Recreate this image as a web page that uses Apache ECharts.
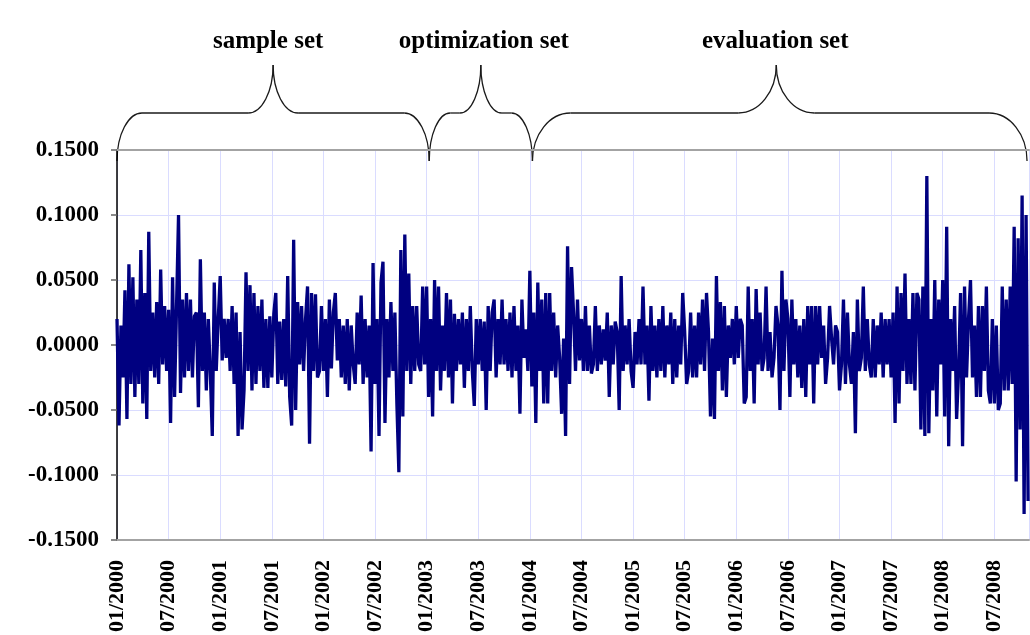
<!DOCTYPE html>
<html>
<head>
<meta charset="utf-8">
<title>Daily returns 2000–2008</title>
<script src="https://cdn.jsdelivr.net/npm/echarts@6.0.0/dist/echarts.min.js"></script>
<style>
  html, body { margin: 0; padding: 0; background: #ffffff; }
  #chart { width: 1030px; height: 635px; }
</style>
</head>
<body>
<div id="chart"></div>
<script>
// Return series, one value per step of 1/52 year starting at January 2000
const startYear = 2000;
const stepsPerYear = 52;
const returns = [
  0.020,-0.062,0.015,-0.025,0.042,-0.057,0.062,-0.030,0.052,-0.040,
  0.035,-0.030,0.073,-0.045,0.040,-0.057,0.087,-0.020,0.025,-0.025,
  0.033,-0.030,0.058,-0.015,0.030,-0.020,0.027,-0.060,0.052,-0.040,
  0.030,0.100,-0.037,0.035,-0.025,0.040,-0.020,0.035,-0.025,0.022,
  0.025,-0.048,0.066,-0.020,0.025,-0.035,0.020,-0.020,-0.070,0.048,
  -0.020,0.020,0.053,-0.012,0.020,-0.010,0.020,-0.020,0.030,-0.030,
  0.025,-0.070,0.010,-0.065,-0.035,0.056,-0.020,0.046,-0.035,0.040,
  -0.030,0.030,-0.020,0.035,-0.033,0.020,-0.033,0.022,-0.025,0.024,
  0.040,-0.030,0.018,-0.027,0.020,-0.032,0.053,-0.040,-0.062,0.081,
  -0.050,0.033,-0.015,0.030,-0.020,0.020,0.045,-0.076,0.040,-0.020,
  0.039,-0.025,-0.020,0.030,-0.020,0.020,-0.040,0.035,-0.018,0.025,
  0.040,-0.012,0.020,-0.025,0.015,-0.030,0.020,-0.035,0.015,-0.015,
  -0.030,0.025,-0.015,0.038,-0.030,0.020,-0.025,0.015,-0.082,0.063,
  -0.030,0.020,-0.070,0.048,0.064,-0.060,0.020,-0.025,0.033,-0.020,
  0.025,-0.045,-0.098,0.073,-0.055,0.085,-0.020,0.055,-0.030,0.030,
  -0.020,0.030,-0.015,-0.020,0.045,-0.015,0.045,-0.040,0.020,-0.055,
  0.050,-0.020,0.045,-0.035,0.015,-0.020,0.040,-0.025,0.035,-0.045,
  0.024,-0.020,0.020,-0.015,0.025,-0.033,0.020,-0.020,0.030,-0.020,
  -0.047,0.020,-0.015,0.020,-0.020,0.018,-0.050,0.030,-0.020,0.025,
  0.035,-0.025,0.020,-0.015,0.035,-0.015,0.020,-0.020,0.025,-0.025,
  0.030,-0.020,0.015,-0.053,0.035,-0.010,0.012,-0.020,0.057,-0.032,
  0.025,-0.060,0.048,-0.020,0.035,-0.045,0.040,-0.045,0.040,-0.020,
  0.025,-0.025,0.015,-0.010,-0.053,0.005,-0.070,0.076,-0.030,0.060,
  0.025,-0.020,0.035,-0.012,0.020,-0.020,0.030,-0.020,0.015,-0.022,
  -0.015,0.030,-0.020,0.015,-0.015,0.012,-0.012,0.025,-0.040,0.015,
  -0.015,0.018,0.010,-0.050,0.053,-0.020,0.015,-0.015,0.020,-0.020,
  -0.033,0.010,-0.015,0.020,-0.015,0.045,-0.015,0.015,-0.043,0.030,
  -0.020,0.015,-0.025,0.020,-0.020,0.030,-0.025,0.015,-0.015,0.025,
  -0.030,0.020,-0.025,0.015,-0.015,0.040,0.010,-0.030,-0.020,0.025,
  -0.025,0.015,-0.025,0.025,-0.015,0.035,-0.020,0.040,0.010,-0.055,
  0.005,-0.057,0.053,-0.020,0.033,-0.035,0.030,-0.040,0.015,-0.010,
  0.020,-0.015,0.030,-0.010,0.020,0.015,-0.045,-0.040,0.045,-0.020,
  0.020,-0.045,0.043,-0.015,0.025,-0.020,-0.010,0.045,-0.020,0.010,
  -0.025,-0.010,0.030,0.015,-0.050,0.057,-0.020,0.035,0.020,-0.040,
  0.035,-0.015,0.020,-0.025,0.015,-0.033,0.020,-0.040,0.030,-0.015,
  0.030,-0.045,0.030,-0.015,0.030,-0.010,0.015,-0.030,-0.010,0.030,
  0.005,-0.015,0.015,0.010,-0.035,-0.015,0.035,-0.030,0.025,-0.015,
  -0.030,0.010,-0.068,0.035,-0.020,-0.010,0.045,-0.020,0.020,-0.015,
  -0.025,0.020,-0.025,0.015,-0.015,0.025,-0.025,0.020,-0.015,0.020,
  -0.025,0.025,-0.060,0.045,-0.045,0.040,-0.020,0.055,-0.030,0.020,
  -0.030,0.040,-0.035,0.040,0.035,-0.065,0.045,-0.070,0.130,-0.068,
  0.020,-0.035,0.050,-0.055,0.035,-0.015,0.050,-0.055,0.091,-0.078,
  0.020,-0.020,0.030,-0.057,-0.020,0.040,-0.078,0.045,-0.025,0.020,
  0.050,-0.025,0.015,-0.040,0.030,-0.040,0.030,-0.020,0.045,-0.035,
  -0.045,0.020,-0.045,0.015,-0.050,-0.045,0.045,-0.035,0.035,-0.035,
  0.045,-0.030,0.091,-0.105,0.082,-0.065,0.115,-0.130,0.100,-0.120
];

// Data sets marked with braces above the plot (boundaries in fractional years)
const setNames = ['sample set', 'optimization set', 'evaluation set'];
const setBounds = [2000.0, 2003.025, 2004.025, 2008.817];

// Axis settings
const xMin = 2000, xMax = 2008.836, xStep = 0.5;
const yMin = -0.15, yMax = 0.15, yStep = 0.05;

const FONT = '"Liberation Serif", "Times New Roman", serif';
const GRID_COLOR = '#dadcff';

const seriesData = returns.map((v, i) => [startYear + i / stepsPerYear, v]);

const chart = echarts.init(document.getElementById('chart'), null, { renderer: 'canvas' });

function dateLabel(v) {
  const year = Math.floor(v + 1e-6);
  const half = Math.round((v - year) * 2);
  return (half === 0 ? '01/' : '07/') + year;
}

chart.setOption({
  animation: false,
  backgroundColor: '#ffffff',
  grid: { left: 117, right: 1, top: 150, bottom: 94, containLabel: false },
  xAxis: [{
    type: 'value',
    min: xMin, max: xMax, interval: xStep,
    axisLine: { show: true, onZero: false, lineStyle: { color: '#a3a3a3', width: 2 } },
    axisTick: { show: false },
    axisLabel: {
      rotate: 90, margin: 20, color: '#000', fontFamily: FONT, fontWeight: 'bold', fontSize: 22,
      showMaxLabel: false, formatter: dateLabel
    },
    splitLine: { show: true, lineStyle: { color: GRID_COLOR, width: 1 } }
  }, {
    type: 'value', position: 'top',
    min: xMin, max: xMax, interval: xStep,
    axisLine: { show: true, onZero: false, lineStyle: { color: '#a3a3a3', width: 2 } },
    axisTick: { show: false }, axisLabel: { show: false }, splitLine: { show: false }
  }],
  yAxis: {
    type: 'value',
    min: yMin, max: yMax, interval: yStep,
    axisLine: { show: true, onZero: false, lineStyle: { color: '#000', width: 1.5 } },
    axisTick: { show: true, length: 6, lineStyle: { color: '#666', width: 1.5 } },
    axisLabel: {
      margin: 18, color: '#000', fontFamily: FONT, fontWeight: 'bold', fontSize: 23,
      formatter: v => v.toFixed(4)
    },
    splitLine: { show: true, lineStyle: { color: GRID_COLOR, width: 1 } }
  },
  series: [{
    type: 'line',
    data: seriesData,
    showSymbol: false,
    symbol: 'none',
    lineStyle: { color: '#000080', width: 3.3, join: 'bevel' },
    clip: true
  }]
});

// Curly braces over each data set, with their titles
const braceCorner = [25, 21, 38];      // corner curve width, px
const bracePeakPos = [0.5, 0.5, 0.493]; // position of the brace point along its span
const labelShift = [-5, 3, -1];        // horizontal nudge of each title, px
const braceTipY = 161, braceBarY = 113, bracePeakY = 65, labelY = 42;
const K = 0.5523;
const braceStyle = { stroke: '#1a1a1a', lineWidth: 1.3, fill: 'none' };

function bez(x1, y1, c1x, c1y, c2x, c2y, x2, y2) {
  return { type: 'bezierCurve', silent: true,
    shape: { x1, y1, x2, y2, cpx1: c1x, cpy1: c1y, cpx2: c2x, cpy2: c2y },
    style: braceStyle };
}
function seg(x1, y1, x2, y2) {
  return { type: 'line', silent: true, shape: { x1, y1, x2, y2 }, style: braceStyle };
}

const graphics = [];
for (let s = 0; s < setNames.length; s++) {
  const xa = chart.convertToPixel({ xAxisIndex: 0 }, setBounds[s]);
  const xb = chart.convertToPixel({ xAxisIndex: 0 }, setBounds[s + 1]);
  const xm = xa + (xb - xa) * bracePeakPos[s];
  const r = braceCorner[s];
  const h1 = braceTipY - braceBarY, h2 = braceBarY - bracePeakY;
  // left half
  graphics.push(bez(xa, braceTipY, xa, braceTipY - K * h1, xa + r - K * r, braceBarY, xa + r, braceBarY));
  graphics.push(seg(xa + r, braceBarY, xm - r, braceBarY));
  graphics.push(bez(xm - r, braceBarY, xm - r + K * r, braceBarY, xm, bracePeakY + K * h2, xm, bracePeakY));
  // right half
  graphics.push(bez(xm, bracePeakY, xm, bracePeakY + K * h2, xm + r - K * r, braceBarY, xm + r, braceBarY));
  graphics.push(seg(xm + r, braceBarY, xb - r, braceBarY));
  graphics.push(bez(xb - r, braceBarY, xb - r + K * r, braceBarY, xb, braceTipY - K * h1, xb, braceTipY));
  graphics.push({
    type: 'text', silent: true, x: xm + labelShift[s], y: labelY,
    style: {
      text: setNames[s], fill: '#000', font: 'bold 25px ' + FONT,
      align: 'center', verticalAlign: 'middle', textAlign: 'center', textVerticalAlign: 'middle'
    }
  });
}
chart.setOption({ graphic: { elements: graphics } });
</script>
</body>
</html>
